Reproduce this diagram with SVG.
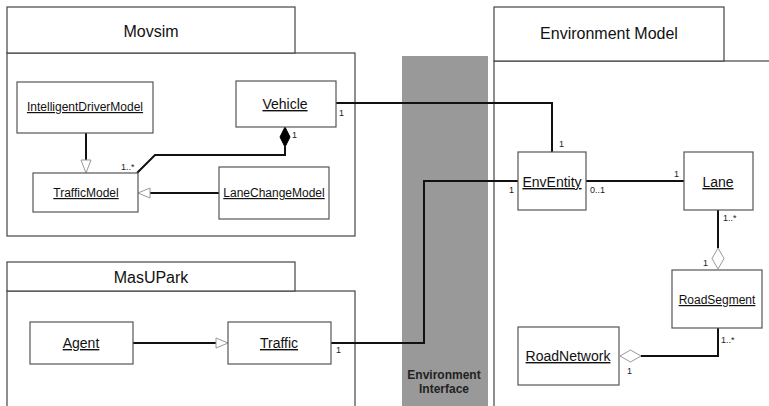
<svg xmlns="http://www.w3.org/2000/svg" width="769" height="406" viewBox="0 0 769 406">
<style>
.pkg{fill:#fff;stroke:#444;stroke-width:1.2}
.box{fill:#fff;stroke:#555;stroke-width:1.2}
.title{font-family:"Liberation Sans",Arial,sans-serif;font-size:16px;fill:#111;text-anchor:middle}
.cls{font-family:"Liberation Sans",Arial,sans-serif;font-size:14px;fill:#111;text-anchor:middle;text-decoration:underline}
.cls12{font-size:12px}
.mult{font-family:"Liberation Sans",Arial,sans-serif;font-size:9px;fill:#222}
.con{fill:none;stroke:#111;stroke-width:2}
.tri{fill:#fff;stroke:#999;stroke-width:1}
.ei{font-family:"Liberation Sans",Arial,sans-serif;font-size:12px;font-weight:bold;fill:#222;text-anchor:middle}
</style>
<rect width="769" height="406" fill="#fff"/>
<g id="interface">
<rect x="402" y="56" width="86" height="350" fill="#999"/>
<text class="ei" x="444" y="379">Environment</text>
<text class="ei" x="444" y="393">Interface</text>
</g>
<g id="movsim">
<rect class="pkg" x="7" y="53" width="348" height="183"/>
<rect class="pkg" x="7" y="7" width="288" height="46"/>
<text class="title" x="151" y="37">Movsim</text>
</g>
<g id="masupark">
<rect class="pkg" x="7" y="291" width="348" height="125"/>
<rect class="pkg" x="7" y="262" width="288" height="29"/>
<text class="title" x="151" y="283">MasUPark</text>
</g>
<g id="envmodel">
<rect class="pkg" x="494" y="61" width="290" height="360"/>
<rect class="pkg" x="494" y="7" width="230" height="54"/>
<text class="title" x="609" y="39">Environment Model</text>
</g>
<g id="connectors">
<polyline class="con" points="86,133 86,160"/>
<polygon class="tri" points="86,173 81,160 91,160"/>
<polyline class="con" points="219,193 150,193"/>
<polygon class="tri" points="138,193 150,188 150,198"/>
<polyline class="con" points="285,147 285,155 155,155 137,173"/>
<polygon points="285,127 290,137 285,147 280,137" fill="#000" stroke="#000"/>
<polyline class="con" points="133,343 216,343"/>
<polygon class="tri" points="228,343 216,338 216,348"/>
<polyline class="con" points="336,103 552,103 552,152"/>
<polyline class="con" points="331,343 424,343 424,181 518,181"/>
<polyline class="con" points="586,181 684,181"/>
<polyline class="con" points="718,210 718,248"/>
<polygon class="tri" points="718,248 724,258.5 718,269 712,258.5"/>
<polyline class="con" points="718,328 718,356 641,356"/>
<polygon class="tri" points="620,356 630.5,350 641,356 630.5,362"/>
<text class="mult" x="292" y="138">1</text>
<text class="mult" x="121" y="170">1..*</text>
<text class="mult" x="339" y="116">1</text>
<text class="mult" x="559" y="147">1</text>
<text class="mult" x="509" y="193">1</text>
<text class="mult" x="590" y="193">0..1</text>
<text class="mult" x="674" y="177">1</text>
<text class="mult" x="723" y="221">1..*</text>
<text class="mult" x="703" y="266">1</text>
<text class="mult" x="721" y="343">1..*</text>
<text class="mult" x="627" y="374">1</text>
<text class="mult" x="336" y="353">1</text>
</g>
<g id="IntelligentDriverModel">
<rect class="box" x="17" y="82" width="136" height="51"/>
<text class="cls cls12" x="85" y="111">IntelligentDriverModel</text>
</g>
<g id="TrafficModel">
<rect class="box" x="33" y="173" width="105" height="39"/>
<text class="cls cls12" x="86" y="197">TrafficModel</text>
</g>
<g id="Vehicle">
<rect class="box" x="236" y="81" width="100" height="46"/>
<text class="cls" x="285" y="109">Vehicle</text>
</g>
<g id="LaneChangeModel">
<rect class="box" x="219" y="167" width="110" height="52"/>
<text class="cls cls12" x="274" y="197">LaneChangeModel</text>
</g>
<g id="Agent">
<rect class="box" x="30" y="322" width="103" height="42"/>
<text class="cls" x="81" y="348">Agent</text>
</g>
<g id="Traffic">
<rect class="box" x="228" y="322" width="103" height="42"/>
<text class="cls" x="279" y="348">Traffic</text>
</g>
<g id="EnvEntity">
<rect class="box" x="518" y="152" width="68" height="58"/>
<text class="cls" x="552" y="187">EnvEntity</text>
</g>
<g id="Lane">
<rect class="box" x="684" y="152" width="69" height="58"/>
<text class="cls" x="718" y="187">Lane</text>
</g>
<g id="RoadSegment">
<rect class="box" x="672" y="270" width="90" height="58"/>
<text class="cls cls12" x="717" y="304">RoadSegment</text>
</g>
<g id="RoadNetwork">
<rect class="box" x="518" y="327" width="101" height="58"/>
<text class="cls" x="568" y="361">RoadNetwork</text>
</g>
</svg>
